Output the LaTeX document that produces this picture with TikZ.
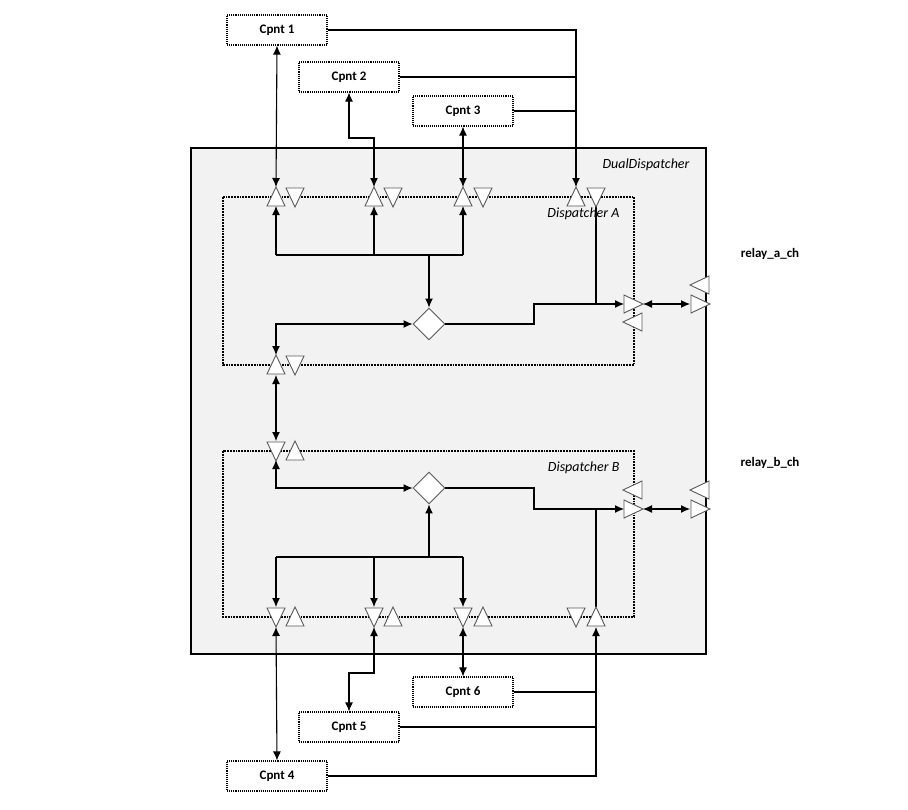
\documentclass[tikz,border=0pt]{standalone}
\usepackage{fontspec}
\setmainfont{Carlito}
\usetikzlibrary{arrows.meta,shapes.geometric}
\begin{document}
\begin{tikzpicture}[x=1pt,y=-1pt,
  ln/.style={line width=1.1pt},
  ar/.style={ln,-{Latex[length=9pt,width=8pt]}},
  bar/.style={ln,{Latex[length=9pt,width=8pt]}-{Latex[length=9pt,width=8pt]}},
  cp/.style={draw,densely dotted,line width=1.1pt,fill=white,minimum width=100pt,minimum height=30pt,font=\bfseries\fontsize{13}{15}\selectfont},
  tri/.style={draw=black!65,fill=white,line width=0.9pt},
  lab/.style={font=\itshape\fontsize{14}{16}\selectfont},
  dis/.style={draw=black!65,fill=white,line width=0.9pt,shape=diamond,minimum size=32pt,inner sep=0pt}]
\useasboundingbox (0,0) rectangle (908,809);
\newcommand{\tup}[2]{\draw[tri] (#1-9,#2+9)--(#1,#2-10)--(#1+9,#2+9)--cycle;}
\newcommand{\tdn}[2]{\draw[tri] (#1-9,#2-9)--(#1,#2+10)--(#1+9,#2-9)--cycle;}
\newcommand{\trt}[2]{\draw[tri] (#1-9,#2-9)--(#1+10,#2)--(#1-9,#2+9)--cycle;}
\newcommand{\tlt}[2]{\draw[tri] (#1+9,#2-9)--(#1-10,#2)--(#1+9,#2+9)--cycle;}
% outer
\draw[line width=2.2pt,fill=black!5] (191,148) rectangle (706,654);
\node[anchor=east,lab] at (693,165) {DualDispatcher};
\draw[densely dotted,line width=1.8pt] (223,197) rectangle (634,365);
\node[anchor=east,lab] at (623,214) {Dispatcher A};
\draw[densely dotted,line width=1.8pt] (223,451) rectangle (634,617);
\node[anchor=east,lab] at (623,468) {Dispatcher B};
\node[font=\bfseries\fontsize{13}{15}\selectfont] (ra) at (770,254) {relay\_a\_ch};
\node[font=\bfseries\fontsize{13}{15}\selectfont] (rb) at (770,463) {relay\_b\_ch};
% components
\node[cp] (c1) at (277,30) {Cpnt 1};
\node[cp] (c2) at (349,77) {Cpnt 2};
\node[cp] (c3) at (463,111) {Cpnt 3};
\node[cp] (c6) at (463,692) {Cpnt 6};
\node[cp] (c5) at (349,727) {Cpnt 5};
\node[cp] (c4) at (277,776) {Cpnt 4};
\node[dis] (da) at (429,324) {};
\node[dis] (db) at (429,488) {};
% coordinates
\coordinate (a1t) at (276,187); \coordinate (a1b) at (276,206);
\coordinate (a2t) at (374,187); \coordinate (a2b) at (374,206);
\coordinate (a3t) at (463,187); \coordinate (a3b) at (463,206);
\coordinate (a4t) at (576,187);
\coordinate (alt) at (276,355); \coordinate (alb) at (276,375);
\coordinate (blt) at (276,441); \coordinate (blb) at (276,460);
\coordinate (b1t) at (276,607); \coordinate (b1b) at (276,627);
\coordinate (b2t) at (374,607); \coordinate (b2b) at (374,627);
\coordinate (b3t) at (463,607); \coordinate (b3b) at (463,627);
\coordinate (b4b) at (596,627);
\coordinate (rai) at (624,304); \coordinate (rao) at (643,304);
\coordinate (oai) at (690,304);
\coordinate (rbi) at (624,509); \coordinate (rbo) at (643,509);
\coordinate (obi) at (690,509);
% top connections
\draw[bar] (c1.south) -- (a1t);
\draw[bar] (c2.south) -- (349,138) -| (a2t);
\draw[bar] (c3.south) -- (a3t);
\draw[ar] (c1.east) -| (a4t);
\draw[ln] (c2.east) -- (576,77);
\draw[ln] (c3.east) -- (576,111);
% inside A
\draw[ar] (276,255) -- (a1b);
\draw[ar] (374,255) -- (a2b);
\draw[ar] (463,255) -- (a3b);
\draw[ln] (276,255) -- (463,255);
\draw[ar] (429,255) -- (da.north);
\draw[bar] (alt) |- (da.west);
\draw[ar] (da.east) -- (534,324) -- (534,304) -- (rai);
\draw[ln] (596,206) -- (596,304);
\draw[bar] (rao) -- (oai);
\draw[bar] (alb) -- (blt);
% inside B
\draw[bar] (blb) |- (db.west);
\draw[ar] (429,557) -- (db.south);
\draw[ln] (276,557) -- (463,557);
\draw[ar] (276,557) -- (b1t);
\draw[ar] (374,557) -- (b2t);
\draw[ar] (463,557) -- (b3t);
\draw[ar] (db.east) -- (534,488) -- (534,509) -- (rbi);
\draw[ln] (596,509) -- (596,607);
\draw[bar] (rbo) -- (obi);
% bottom connections
\draw[bar] (b1b) -- (c4.north);
\draw[bar] (b2b) -- (374,673) -| (c5.north);
\draw[bar] (b3b) -- (c6.north);
\draw[ar] (c4.east) -| (b4b);
\draw[ln] (c5.east) -- (596,727);
\draw[ln] (c6.east) -- (596,692);
% triangles
\tup{276}{197}\tdn{295}{197}
\tup{374}{197}\tdn{393}{197}
\tup{463}{197}\tdn{483}{197}
\tup{576}{197}\tdn{596}{197}
\tup{276}{365}\tdn{295}{365}
\tdn{276}{451}\tup{295}{451}
\tdn{276}{617}\tup{295}{617}
\tdn{374}{617}\tup{393}{617}
\tdn{463}{617}\tup{483}{617}
\tdn{576}{617}\tup{596}{617}
\trt{633}{304}\tlt{633}{322}
\trt{700}{304}\tlt{700}{285}
\tlt{633}{490}\trt{633}{509}
\tlt{700}{490}\trt{700}{509}
\end{tikzpicture}
\end{document}
